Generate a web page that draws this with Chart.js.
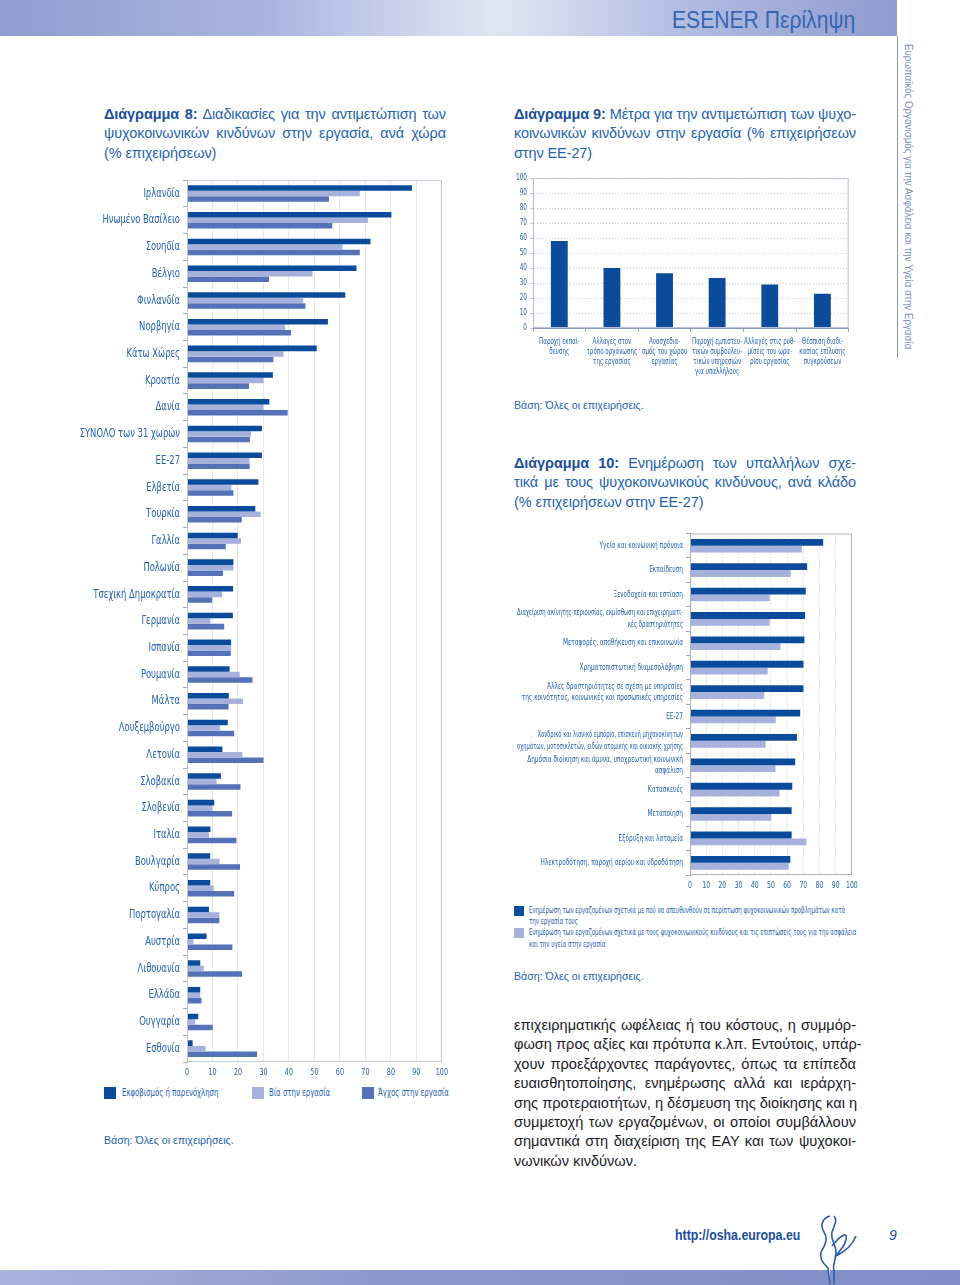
<!DOCTYPE html>
<html>
<head>
<meta charset="utf-8">
<script src="https://cdn.jsdelivr.net/npm/chart.js@4.4.0/dist/chart.umd.min.js"></script>
<style>
  body { margin: 0; background: #fff; }
  #page { position: relative; width: 960px; height: 1285px; overflow: hidden; background: #fff;
          font-family: "Liberation Sans", Arial, sans-serif; color: #2363ae; }
  .abs { position: absolute; }
  .title { font-size: 14.5px; line-height: 19.4px; width: 342px; letter-spacing: -0.1px; }
  .title div { white-space: nowrap; text-align: justify; text-align-last: justify; }
  .title div.last { text-align-last: left; }
  .title b { color: #1b4f9e; }
  .base { font-size: 10.6px; }
  .sq { position: absolute; width: 12px; height: 12px; }
  .sx { position: absolute; white-space: nowrap; transform-origin: left top;
        font-family: "DejaVu Sans Condensed", "DejaVu Sans", sans-serif; font-stretch: condensed; }
  .body { font-size: 14.6px; line-height: 19.4px; width: 342px; color: #1a1a2a; }
  .body div { white-space: nowrap; text-align: justify; text-align-last: justify; }
  .body div.last { text-align-last: left; }
</style>
</head>
<body>
<div id="page">
  <!-- header band -->
  <div class="abs" style="left:0;top:0;width:897px;height:36px;background:linear-gradient(to right,#8e9ed2 0%,#a9b5de 30%,#e2e5f4 55%,#b4bee2 75%,#8d9bd0 100%);"></div>
  <div class="abs" style="left:672px;top:6px;font-size:24px;color:#3566b2;white-space:nowrap;transform:scaleX(0.88);transform-origin:left top;">ESENER Περίληψη</div>
  <div class="abs" style="left:897px;top:36px;width:1px;height:322px;background:#8c9bcf;"></div>
  <div class="abs" style="left:903px;top:44px;writing-mode:vertical-rl;font-size:10.5px;color:#7d8cc0;white-space:nowrap;transform:scaleY(0.93);transform-origin:left top;">Ευρωπαϊκός Οργανισμός για την Ασφάλεια και την Υγεία στην Εργασία</div>

  <!-- chart 8 -->
  <div class="abs title" style="left:104px;top:105px;">
    <div><b>Διάγραμμα 8:</b> Διαδικασίες για την αντιμετώπιση των</div>
    <div>ψυχοκοινωνικών κινδύνων στην εργασία, ανά χώρα</div>
    <div class="last">(% επιχειρήσεων)</div>
  </div>
  <div class="abs" style="left:60px;top:170px;width:395px;height:915px;"><canvas id="c8"></canvas></div>
  <div class="abs" style="left:104px;top:1087px;font-size:11.2px;width:360px;height:14px;">
    <span class="sq" style="left:0;top:0;background:#0a4b9c;"></span><span class="sx" style="left:18px;top:-1px;transform:scaleX(0.69);">Εκφοβισμός ή παρενόχληση</span>
    <span class="sq" style="left:148px;top:0;background:#a6b1dc;"></span><span class="sx" style="left:165px;top:-1px;transform:scaleX(0.69);">Βία στην εργασία</span>
    <span class="sq" style="left:258px;top:0;background:#5571b7;"></span><span class="sx" style="left:274px;top:-1px;transform:scaleX(0.69);">Άγχος στην εργασία</span>
  </div>
  <div class="abs base" style="left:104px;top:1134px;">Βάση: Όλες οι επιχειρήσεις.</div>

  <!-- chart 9 -->
  <div class="abs title" style="left:514px;top:105px;">
    <div><b>Διάγραμμα 9:</b> Μέτρα για την αντιμετώπιση των ψυχο-</div>
    <div>κοινωνικών κινδύνων στην εργασία (% επιχειρήσεων</div>
    <div class="last">στην ΕΕ-27)</div>
  </div>
  <div class="abs" style="left:508px;top:170px;width:352px;height:215px;"><canvas id="c9"></canvas></div>
  <div class="abs base" style="left:514px;top:399px;">Βάση: Όλες οι επιχειρήσεις.</div>

  <!-- chart 10 -->
  <div class="abs title" style="left:514px;top:454px;">
    <div><b>Διάγραμμα 10:</b> Ενημέρωση των υπαλλήλων σχε-</div>
    <div>τικά με τους ψυχοκοινωνικούς κινδύνους, ανά κλάδο</div>
    <div class="last">(% επιχειρήσεων στην ΕΕ-27)</div>
  </div>
  <div class="abs" style="left:505px;top:525px;width:360px;height:370px;"><canvas id="c10"></canvas></div>
  <div class="abs" style="left:514px;top:905px;font-size:8.2px;width:345px;height:50px;">
    <span class="sq" style="left:0;top:1px;width:10px;height:10px;background:#0a4b9c;"></span>
    <span class="sx" style="left:15px;top:0;transform:scaleX(0.75);">Ενημέρωση των εργαζομένων σχετικά με πού να απευθυνθούν σε περίπτωση ψυχοκοινωνικών προβλημάτων κατά</span>
    <span class="sx" style="left:15px;top:11px;transform:scaleX(0.75);">την εργασία τους</span>
    <span class="sq" style="left:0;top:23px;width:10px;height:10px;background:#a6b1dc;"></span>
    <span class="sx" style="left:15px;top:22px;transform:scaleX(0.75);">Ενημέρωση των εργαζομένων σχετικά με τους ψυχοκοινωνικούς κινδύνους και τις επιπτώσεις τους για την ασφάλεια</span>
    <span class="sx" style="left:15px;top:34px;transform:scaleX(0.75);">και την υγεία στην εργασία</span>
  </div>
  <div class="abs base" style="left:514px;top:970px;">Βάση: Όλες οι επιχειρήσεις.</div>

  <!-- body text -->
  <div class="abs body" style="left:514px;top:1016px;">
    <div>επιχειρηματικής ωφέλειας ή του κόστους, η συμμόρ-</div>
    <div>φωση προς αξίες και πρότυπα κ.λπ. Εντούτοις, υπάρ-</div>
    <div>χουν προεξάρχοντες παράγοντες, όπως τα επίπεδα</div>
    <div>ευαισθητοποίησης, ενημέρωσης αλλά και ιεράρχη-</div>
    <div>σης προτεραιοτήτων, η δέσμευση της διοίκησης και η</div>
    <div>συμμετοχή των εργαζομένων, οι οποίοι συμβάλλουν</div>
    <div>σημαντικά στη διαχείριση της ΕΑΥ και των ψυχοκοι-</div>
    <div class="last">νωνικών κινδύνων.</div>
  </div>

  <!-- footer -->
  <div class="abs" style="left:675px;top:1227px;font-size:14px;font-weight:bold;color:#1b4f9e;white-space:nowrap;transform:scaleX(0.88);transform-origin:left top;">http://osha.europa.eu</div>
  <div class="abs" style="left:889px;top:1227px;font-size:14px;font-style:italic;color:#1b4f9e;">9</div>
  <div class="abs" style="left:0;top:1270px;width:960px;height:15px;background:linear-gradient(to right,#a9b4dc 0%,#8a98cc 40%,#7f8ec8 100%);"></div>
  <svg class="abs" style="left:812px;top:1212px;" width="50" height="73" viewBox="0 0 50 73">
    <path d="M18 4 C10 6 8 14 12 20 C16 26 14 32 10 38 C6 46 12 52 16 56 L18 72 M22 4 C26 8 22 14 20 20 C18 28 24 32 24 40 C24 48 20 54 22 58 L22 72" fill="#fff" stroke="#2a5cab" stroke-width="1.6"/>
    <path d="M20 34 C28 24 36 18 34 28 C32 36 26 40 24 44 C32 40 40 34 44 24" fill="none" stroke="#2a5cab" stroke-width="1.6"/>
  </svg>
</div>

<script>
// Chart 8 data
const countries = ['Ιρλανδία', 'Ηνωμένο Βασίλειο', 'Σουηδία', 'Βέλγιο', 'Φινλανδία', 'Νορβηγία', 'Κάτω Χώρες', 'Κροατία', 'Δανία',
  'ΣΥΝΟΛΟ των 31 χωρών', 'ΕΕ-27', 'Ελβετία', 'Τουρκία', 'Γαλλία', 'Πολωνία', 'Τσεχική Δημοκρατία', 'Γερμανία', 'Ισπανία',
  'Ρουμανία', 'Μάλτα', 'Λουξεμβούργο', 'Λετονία', 'Σλοβακία', 'Σλοβενία', 'Ιταλία', 'Βουλγαρία', 'Κύπρος',
  'Πορτογαλία', 'Αυστρία', 'Λιθουανία', 'Ελλάδα', 'Ουγγαρία', 'Εσθονία'];
const bullying = [88.3, 80.2, 72, 66.5, 62.1, 55.3, 50.9, 33.7, 32.3, 29.4, 29.4, 28, 26.8, 19.9, 18.2, 18.1, 18, 17.3,
  16.7, 16.4, 16, 13.9, 13.3, 10.7, 9.2, 9.1, 9.1, 8.6, 7.7, 5.2, 5.2, 4.4, 2.2];
const violence = [67.8, 71, 61, 49.2, 45.6, 38.5, 37.9, 30, 30, 25.1, 24.5, 17.4, 28.9, 21.2, 18.2, 13.8, 9.2, 17.3,
  20.7, 22, 12.9, 21.7, 11.6, 9.9, 8.6, 12.8, 10.5, 12.7, 2.5, 6.6, 5.2, 3.2, 7.3];
const stress = [55.7, 57, 67.8, 32.2, 46.5, 40.8, 33.9, 24.3, 39.5, 24.7, 24.6, 18.2, 21.5, 15.2, 14.1, 9.9, 14.6, 17.2,
  25.7, 16.3, 18.5, 30, 21, 17.7, 19.4, 20.8, 18.5, 12.7, 17.8, 21.6, 5.7, 10.1, 27.5];

// Chart 9 data
const measures = [['Παροχή εκπαί-', 'δευσης'], ['Αλλαγές στον', 'τρόπο οργάνωσης', 'της εργασίας'],
  ['Ανασχεδια-', 'σμός του χώρου', 'εργασίας'], ['Παροχή εμπιστευ-', 'τικών συμβουλευ-', 'τικών υπηρεσιών', 'για υπαλλήλους'],
  ['Αλλαγές στις ρυθ-', 'μίσεις του ωρα-', 'ρίου εργασίας'], ['Θέσπιση διαδι-', 'κασίας επίλυσης', 'συγκρούσεων']];
const measureValues = [58, 40, 36.5, 33.4, 29, 22.8];

// Chart 10 data
const sectors = ['Υγεία και κοινωνική πρόνοια', 'Εκπαίδευση', 'Ξενοδοχεία και εστίαση',
  ['Διαχείριση ακίνητης περιουσίας, εκμίσθωση και επιχειρηματι-', 'κές δραστηριότητες'],
  'Μεταφορές, αποθήκευση και επικοινωνία', 'Χρηματοπιστωτική διαμεσολάβηση',
  ['Άλλες δραστηριότητες σε σχέση με υπηρεσίες', 'της κοινότητας, κοινωνικές και προσωπικές υπηρεσίες'],
  'ΕΕ-27',
  ['Χονδρικό και λιανικό εμπόριο, επισκευή μηχανοκίνητων', 'οχημάτων, μοτοσικλετών, ειδών ατομικής και οικιακής χρήσης'],
  ['Δημόσια διοίκηση και άμυνα, υποχρεωτική κοινωνική', 'ασφάλιση'],
  'Κατασκευές', 'Μεταποίηση', 'Εξόρυξη και λατομεία', 'Ηλεκτροδότηση, παροχή αερίου και υδροδότηση'];
const whereToTurn = [82.3, 72.4, 71.5, 71.1, 70.7, 70.1, 70.1, 68.1, 66.1, 65, 63.2, 62.8, 62.8, 62];
const risksInfo = [69.1, 62.2, 49.2, 49.2, 55.9, 48, 45.9, 53, 46.7, 52.8, 55.3, 50.2, 71.9, 61];

const DARK = '#0a4b9c', LIGHT = '#a6b1dc', MID = '#5571b7', TXT = '#2363ae';
const COND = '"DejaVu Sans Condensed", "DejaVu Sans", sans-serif';

// the original uses a condensed face; squeeze each tick label horizontally around its anchor
// (k = squeeze factor, maxW = optional widest line allowed after squeezing)
function squeeze(scale, k, maxW) {
  if (scale._squeezed) return;
  scale._squeezed = true;
  const getItems = scale.getLabelItems;
  const drawLabels = scale.drawLabels;
  scale._computeLabelArea = () => undefined;
  scale.drawLabels = function (area) {
    const ctx = this.ctx;
    const items = getItems.call(this, area);
    items.forEach(it => {
      let f = k;
      if (maxW) {
        ctx.save();
        ctx.font = it.font.string;
        const lines = Array.isArray(it.label) ? it.label : [it.label];
        const w = Math.max(...lines.map(l => ctx.measureText(l).width));
        ctx.restore();
        f = Math.min(k, maxW / w);
      }
      const one = { ...it, options: { ...it.options, translation: [it.options.translation[0] / f, it.options.translation[1]] } };
      this.getLabelItems = () => [one];
      ctx.save();
      ctx.scale(f, 1);
      drawLabels.call(this, area);
      ctx.restore();
    });
    this.getLabelItems = getItems;
  };
}

// box around the plot area
const boxPlugin = {
  id: 'box',
  afterDraw(chart, args, opts) {
    const { ctx, chartArea: a } = chart;
    ctx.save();
    ctx.strokeStyle = opts.color || '#b8bdd0';
    ctx.lineWidth = 1;
    ctx.strokeRect(a.left + 0.5, a.top + 0.5, a.width - 1, a.height - 1);
    ctx.restore();
  }
};

const common = {
  responsive: true,
  maintainAspectRatio: false,
  animation: false,
  plugins: { legend: { display: false }, tooltip: { enabled: false } }
};

// Chart 8
new Chart(document.getElementById('c8'), {
  type: 'bar',
  data: {
    labels: countries,
    datasets: [
      { data: bullying, backgroundColor: DARK },
      { data: violence, backgroundColor: LIGHT },
      { data: stress, backgroundColor: MID }
    ]
  },
  options: {
    ...common,
    indexAxis: 'y',
    barPercentage: 1,
    categoryPercentage: 0.62,
    layout: { padding: { top: 6, right: 10, left: 0, bottom: 0 } },
    plugins: { ...common.plugins, box: { color: '#c4c8d6' } },
    scales: {
      x: {
        min: 0, max: 100,
        ticks: { stepSize: 10, color: TXT, font: { family: COND, size: 9.5 }, padding: 5, maxRotation: 0, autoSkip: false },
        grid: { color: '#e6e8ef', drawTicks: false },
        border: { display: false },
        afterFit: s => { s.height = 23; squeeze(s, 0.75); }
      },
      y: {
        ticks: { color: TXT, font: { family: COND, size: 12 }, padding: 3, autoSkip: false },
        grid: { drawOnChartArea: false, tickLength: 4, color: '#a0a4b4' },
        border: { color: '#a0a4b4' },
        afterFit: s => { s.width = 127; squeeze(s, 0.78); }
      }
    }
  },
  plugins: [boxPlugin]
});

// Chart 9
new Chart(document.getElementById('c9'), {
  type: 'bar',
  data: {
    labels: measures,
    datasets: [{ data: measureValues, backgroundColor: DARK }]
  },
  options: {
    ...common,
    barPercentage: 0.32,
    categoryPercentage: 1,
    layout: { padding: { top: 8, right: 7, left: 0, bottom: 0 } },
    plugins: { ...common.plugins, box: { color: '#b8c0d8' } },
    scales: {
      x: {
        ticks: { color: TXT, font: { family: COND, size: 8.6, lineHeight: 1.15 }, maxRotation: 0, autoSkip: false, padding: 5 },
        grid: { drawOnChartArea: false, tickLength: 4, color: '#a0a8c0' },
        border: { color: '#8e98b8' },
        afterFit: s => { s.height = 57; squeeze(s, 0.72); }
      },
      y: {
        min: 0, max: 100,
        ticks: { stepSize: 10, color: TXT, font: { family: COND, size: 8.5 }, padding: 3, autoSkip: false },
        grid: { color: '#c4c8d4', tickLength: 3 },
        border: { color: '#8e98b8', dash: [1, 2] },
        afterFit: s => { s.width = 25; squeeze(s, 0.75); }
      }
    }
  },
  plugins: [boxPlugin]
});

// Chart 10
new Chart(document.getElementById('c10'), {
  type: 'bar',
  data: {
    labels: sectors,
    datasets: [
      { data: whereToTurn, backgroundColor: DARK },
      { data: risksInfo, backgroundColor: LIGHT }
    ]
  },
  options: {
    ...common,
    indexAxis: 'y',
    barPercentage: 1,
    categoryPercentage: 0.56,
    layout: { padding: { top: 8, right: 10, left: 0, bottom: 0 } },
    plugins: { ...common.plugins, box: { color: '#a8b0c8' } },
    scales: {
      x: {
        min: 0, max: 100,
        ticks: { stepSize: 10, color: TXT, font: { family: COND, size: 9.5 }, padding: 5, maxRotation: 0, autoSkip: false },
        grid: { color: '#c8ccd6', drawTicks: false },
        border: { display: false, dash: [1, 2] },
        afterFit: s => { s.height = 20; squeeze(s, 0.72); }
      },
      y: {
        ticks: { color: TXT, font: { family: COND, size: 8.2, lineHeight: 1.35 }, padding: 3, autoSkip: false },
        grid: { drawOnChartArea: false, tickLength: 4, color: '#a0a4b4' },
        border: { color: '#a0a8c0' },
        afterFit: s => { s.width = 185; squeeze(s, 0.79, 166); }
      }
    }
  },
  plugins: [boxPlugin]
});
</script>
</body>
</html>
